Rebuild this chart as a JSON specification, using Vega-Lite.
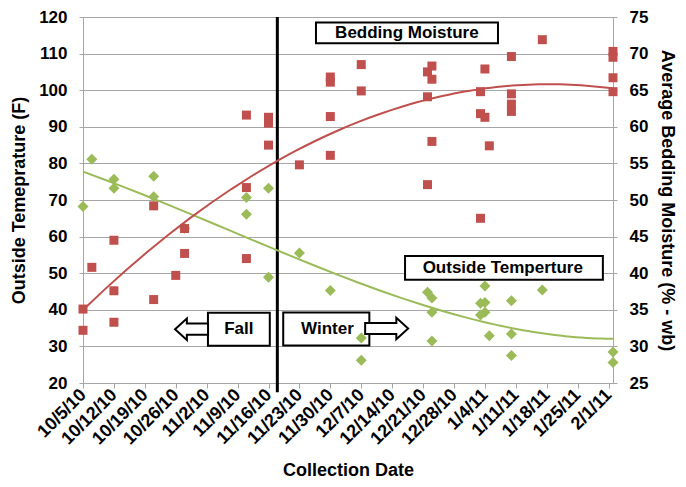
{
  "$schema": "https://vega.github.io/schema/vega-lite/v6.json",
  "width": 530,
  "height": 366,
  "autosize": {"type": "none"},
  "padding": {"left": 83, "top": 17, "right": 73, "bottom": 104},
  "config": {
    "view": {"stroke": null},
    "font": "Liberation Sans",
    "axis": {
      "labelFont": "Liberation Sans",
      "titleFont": "Liberation Sans",
      "labelColor": "#000000",
      "titleColor": "#000000",
      "domainColor": "#a6a6a6",
      "tickColor": "#a6a6a6",
      "gridColor": "#a6a6a6",
      "labelFontWeight": "bold",
      "labelFontSize": 17
    }
  },
  "encoding": {
    "x": {
      "field": "date",
      "type": "temporal",
      "scale": {"domain": [{"year": 2010, "month": 10, "date": 5}, {"year": 2011, "month": 2, "date": 2}]},
      "axis": {
        "values": [
          {"year": 2010, "month": 10, "date": 5},
          {"year": 2010, "month": 10, "date": 12},
          {"year": 2010, "month": 10, "date": 19},
          {"year": 2010, "month": 10, "date": 26},
          {"year": 2010, "month": 11, "date": 2},
          {"year": 2010, "month": 11, "date": 9},
          {"year": 2010, "month": 11, "date": 16},
          {"year": 2010, "month": 11, "date": 23},
          {"year": 2010, "month": 11, "date": 30},
          {"year": 2010, "month": 12, "date": 7},
          {"year": 2010, "month": 12, "date": 14},
          {"year": 2010, "month": 12, "date": 21},
          {"year": 2010, "month": 12, "date": 28},
          {"year": 2011, "month": 1, "date": 4},
          {"year": 2011, "month": 1, "date": 11},
          {"year": 2011, "month": 1, "date": 18},
          {"year": 2011, "month": 1, "date": 25},
          {"year": 2011, "month": 2, "date": 1}
        ],
        "format": "%-m/%-d/%y",
        "labelAngle": -45,
        "labelAlign": "right",
        "labelBaseline": "middle",
        "labelFontSize": 18,
        "labelPadding": 4,
        "labelOverlap": false,
        "labelFlush": false,
        "labelBound": false,
        "tickSize": 5,
        "grid": false,
        "title": "Collection Date",
        "titleFontSize": 18,
        "titleFontWeight": "bold",
        "titlePadding": 14
      }
    }
  },
  "layer": [
    {
      "data": {
        "values": [
          {"date": "10/5/2010", "temp": 68.2},
          {"date": "10/7/2010", "temp": 81.1},
          {"date": "10/12/2010", "temp": 75.7},
          {"date": "10/12/2010", "temp": 73.2},
          {"date": "10/21/2010", "temp": 76.5},
          {"date": "10/21/2010", "temp": 70.9},
          {"date": "10/28/2010", "temp": 62.3},
          {"date": "11/11/2010", "temp": 70.7},
          {"date": "11/11/2010", "temp": 66.1},
          {"date": "11/16/2010", "temp": 73.2},
          {"date": "11/16/2010", "temp": 48.9},
          {"date": "11/23/2010", "temp": 55.5},
          {"date": "11/30/2010", "temp": 45.3},
          {"date": "12/7/2010", "temp": 32.3},
          {"date": "12/7/2010", "temp": 26.2},
          {"date": "12/22/2010", "temp": 44.8},
          {"date": "12/23/2010", "temp": 43.2},
          {"date": "12/23/2010", "temp": 39.3},
          {"date": "12/23/2010", "temp": 31.5},
          {"date": "1/3/2011", "temp": 41.8},
          {"date": "1/3/2011", "temp": 38.6},
          {"date": "1/4/2011", "temp": 46.5},
          {"date": "1/4/2011", "temp": 42.0},
          {"date": "1/4/2011", "temp": 39.3},
          {"date": "1/5/2011", "temp": 32.9},
          {"date": "1/10/2011", "temp": 42.5},
          {"date": "1/10/2011", "temp": 33.4},
          {"date": "1/10/2011", "temp": 27.5},
          {"date": "1/17/2011", "temp": 45.4},
          {"date": "2/2/2011", "temp": 28.5},
          {"date": "2/2/2011", "temp": 25.6}
        ],
        "format": {"parse": {"date": "date"}}
      },
      "encoding": {
        "y": {
          "field": "temp",
          "type": "quantitative",
          "scale": {"domain": [20, 120], "nice": false, "zero": false},
          "axis": {
            "orient": "left",
            "values": [20, 30, 40, 50, 60, 70, 80, 90, 100, 110, 120],
            "grid": true,
            "tickSize": 4,
            "labelPadding": 12,
            "labelFontSize": 17,
            "title": "Outside Temeprature (F)",
            "titleFontSize": 18,
            "titleFontWeight": "bold",
            "titlePadding": 10
          }
        }
      },
      "layer": [
        {
          "data": {
            "values": [
              {"label": "Bedding Moisture", "date": "11/26/2010 18:00", "date2": "1/6/2011 23:00", "temp": 112.8, "temp2": 118.5},
              {"label": "Outside Temperture", "date": "12/16/2010 22:00", "date2": "1/30/2011 17:00", "temp": 48.2, "temp2": 54.7},
              {"label": "Fall", "date": "11/2/2010 07:00", "date2": "11/16/2010 07:00", "temp": 30.2, "temp2": 39.2},
              {"label": "Winter", "date": "11/19/2010 08:00", "date2": "12/8/2010 20:00", "temp": 30.25, "temp2": 39.25}
            ],
            "format": {"parse": {"date": "date", "date2": "date"}}
          },
          "mark": {"type": "rect", "fill": "white", "stroke": "black", "strokeWidth": 2},
          "encoding": {
            "x2": {"field": "date2"},
            "y2": {"field": "temp2"}
          }
        },
        {
          "data": {
            "values": [
              {"date": "11/18/2010", "temp": 17.5, "temp2": 120}
            ],
            "format": {"parse": {"date": "date"}}
          },
          "mark": {"type": "rule", "color": "black", "strokeWidth": 3},
          "encoding": {
            "y2": {"field": "temp2"}
          }
        },
        {
          "mark": {"type": "point", "shape": "diamond", "filled": true, "color": "#9bbb59", "size": 121, "opacity": 1},
          "encoding": {}
        },
        {
          "transform": [{"regression": "temp", "on": "date", "method": "poly", "order": 3}],
          "mark": {"type": "line", "color": "#9bbb59", "strokeWidth": 2},
          "encoding": {}
        },
        {
          "data": {
            "values": [
              {"label": "Bedding Moisture", "date": "12/17/2010 08:00", "temp": 115.6},
              {"label": "Outside Temperture", "date": "1/8/2011 01:00", "temp": 51.4},
              {"label": "Fall", "date": "11/9/2010 07:00", "temp": 34.7},
              {"label": "Winter", "date": "11/29/2010 08:00", "temp": 34.7}
            ],
            "format": {"parse": {"date": "date"}}
          },
          "mark": {"type": "text", "font": "Liberation Sans", "fontSize": 17, "fontWeight": "bold", "color": "black", "align": "center", "baseline": "middle"},
          "encoding": {
            "text": {"field": "label"}
          }
        },
        {
          "data": {
            "values": [
              {"dir": "left", "date": "10/30/2010 17:00", "temp": 34.7},
              {"dir": "right", "date": "12/12/2010 18:00", "temp": 34.9}
            ],
            "format": {"parse": {"date": "date"}}
          },
          "mark": {"type": "point", "filled": true, "fill": "white", "stroke": "black", "strokeWidth": 2, "size": 1849, "opacity": 1},
          "encoding": {
            "shape": {
              "field": "dir",
              "type": "nominal",
              "scale": {
                "domain": ["left", "right"],
                "range": [
                  "M-1,0 L-0.45,-0.5 L-0.45,-0.26 L0.535,-0.26 L0.535,0.26 L-0.45,0.26 L-0.45,0.5 Z",
                  "M1,0 L0.45,-0.5 L0.45,-0.26 L-1,-0.26 L-1,0.26 L0.45,0.26 L0.45,0.5 Z"
                ]
              },
              "legend": null
            }
          }
        }
      ]
    },
    {
      "data": {
        "values": [
          {"date": "10/5/2010", "moist": 35.1},
          {"date": "10/5/2010", "moist": 32.2},
          {"date": "10/7/2010", "moist": 40.8},
          {"date": "10/12/2010", "moist": 44.5},
          {"date": "10/12/2010", "moist": 37.6},
          {"date": "10/12/2010", "moist": 33.3},
          {"date": "10/21/2010", "moist": 49.2},
          {"date": "10/21/2010", "moist": 36.4},
          {"date": "10/26/2010", "moist": 39.7},
          {"date": "10/28/2010", "moist": 46.1},
          {"date": "10/28/2010", "moist": 42.7},
          {"date": "11/11/2010", "moist": 61.6},
          {"date": "11/11/2010", "moist": 51.7},
          {"date": "11/11/2010", "moist": 42.0},
          {"date": "11/16/2010", "moist": 61.3},
          {"date": "11/16/2010", "moist": 60.5},
          {"date": "11/16/2010", "moist": 57.5},
          {"date": "11/23/2010", "moist": 54.8},
          {"date": "11/30/2010", "moist": 66.8},
          {"date": "11/30/2010", "moist": 66.1},
          {"date": "11/30/2010", "moist": 61.4},
          {"date": "11/30/2010", "moist": 56.1},
          {"date": "12/7/2010", "moist": 68.5},
          {"date": "12/7/2010", "moist": 64.9},
          {"date": "12/22/2010", "moist": 67.5},
          {"date": "12/22/2010", "moist": 64.1},
          {"date": "12/22/2010", "moist": 52.1},
          {"date": "12/23/2010", "moist": 68.3},
          {"date": "12/23/2010", "moist": 66.5},
          {"date": "12/23/2010", "moist": 58.0},
          {"date": "1/3/2011", "moist": 64.8},
          {"date": "1/3/2011", "moist": 61.8},
          {"date": "1/3/2011", "moist": 47.5},
          {"date": "1/4/2011", "moist": 67.9},
          {"date": "1/4/2011", "moist": 61.3},
          {"date": "1/5/2011", "moist": 57.4},
          {"date": "1/10/2011", "moist": 69.6},
          {"date": "1/10/2011", "moist": 64.5},
          {"date": "1/10/2011", "moist": 63.1},
          {"date": "1/10/2011", "moist": 62.1},
          {"date": "1/17/2011", "moist": 71.9},
          {"date": "2/2/2011", "moist": 70.3},
          {"date": "2/2/2011", "moist": 69.5},
          {"date": "2/2/2011", "moist": 66.7},
          {"date": "2/2/2011", "moist": 64.8}
        ],
        "format": {"parse": {"date": "date"}}
      },
      "encoding": {
        "y": {
          "field": "moist",
          "type": "quantitative",
          "scale": {"domain": [25, 75], "nice": false, "zero": false},
          "axis": {
            "orient": "right",
            "values": [25, 30, 35, 40, 45, 50, 55, 60, 65, 70, 75],
            "grid": false,
            "tickSize": 4,
            "labelPadding": 12,
            "labelFontSize": 17,
            "title": "Average Bedding Moisture (% - wb)",
            "titleFontSize": 18,
            "titleFontWeight": "bold",
            "titlePadding": 10
          }
        }
      },
      "layer": [
        {
          "mark": {"type": "point", "shape": "square", "filled": true, "color": "#c0504d", "size": 81, "opacity": 1},
          "encoding": {}
        },
        {
          "transform": [{"regression": "moist", "on": "date", "method": "poly", "order": 2}],
          "mark": {"type": "line", "color": "#c0504d", "strokeWidth": 2},
          "encoding": {}
        }
      ]
    }
  ],
  "resolve": {"scale": {"y": "independent"}}
}
